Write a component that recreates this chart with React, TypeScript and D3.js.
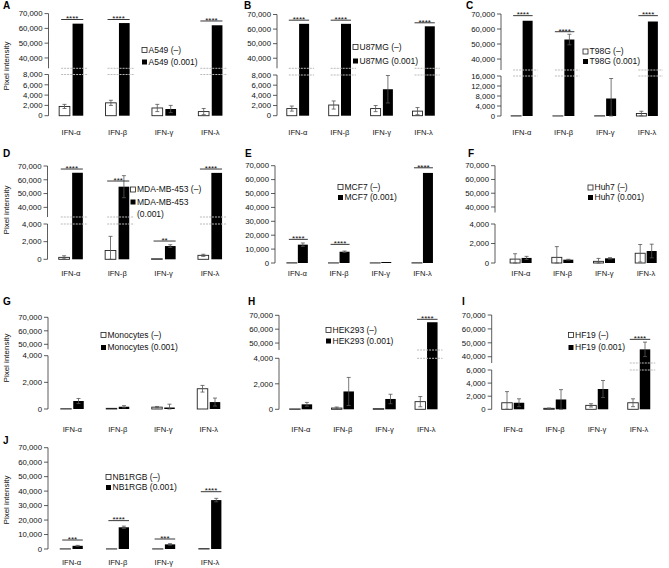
import React from "react";
import * as d3 from "d3";

// ---------- data ----------
const categories = ["IFN-α", "IFN-β", "IFN-γ", "IFN-λ"];

// A549
const a549Ctrl = [1800, 2500, 1500, 800];
const a549CtrlErr = [400, 500, 700, 600];
const a549Treat = [63200, 63600, 1300, 62100];
const a549TreatErr = [0, 0, 700, 0];
const a549Sig = [66000, 66000, null, 65000];
const a549SigText = ["****", "****", "", "****"];

// U87MG
const u87Ctrl = [1400, 2100, 1400, 900];
const u87CtrlErr = [500, 800, 600, 700];
const u87Treat = [63600, 63600, 5200, 61900];
const u87TreatErr = [0, 0, 2700, 0];
const u87Sig = [66100, 66100, null, 64300];
const u87SigText = ["****", "****", "", "****"];

// T98G
const t98Ctrl = [80, 40, 80, 1000];
const t98CtrlErr = [0, 0, 0, 900];
const t98Treat = [65500, 53000, 7000, 65000];
const t98TreatErr = [0, 3500, 8000, 0];
const t98Sig = [68900, 58200, null, 68900];
const t98SigText = ["****", "****", "", "****"];

// MDA-MB-453
const mdaCtrl = [220, 1000, 60, 450];
const mdaCtrlErr = [180, 1600, 0, 120];
const mdaTreat = [65100, 55000, 1500, 65000];
const mdaTreatErr = [0, 8000, 150, 0];
const mdaSig = [67800, 59100, 2070, 67800];
const mdaSigText = ["****", "***", "**", "****"];

// MCF7
const mcf7Ctrl = [150, 100, 100, 150];
const mcf7CtrlErr = [0, 0, 0, 0];
const mcf7Treat = [13200, 8100, 700, 64800];
const mcf7TreatErr = [1200, 500, 0, 0];
const mcf7Sig = [17000, 13400, null, 68500];
const mcf7SigText = ["****", "****", "", "****"];

// Huh7
const huh7Ctrl = [400, 580, 170, 1000];
const huh7CtrlErr = [550, 1100, 300, 900];
const huh7Treat = [520, 340, 480, 1230];
const huh7TreatErr = [160, 40, 70, 700];
const huh7Sig = [null, null, null, null];
const huh7SigText = ["", "", "", ""];

// Monocytes
const monoCtrl = [20, 50, 140, 1520];
const monoCtrlErr = [0, 0, 50, 250];
const monoTreat = [600, 170, 110, 520];
const monoTreatErr = [190, 80, 250, 300];
const monoSig = [null, null, null, null];
const monoSigText = ["", "", "", ""];

// HEK293
const hekCtrl = [30, 100, 50, 600];
const hekCtrlErr = [0, 80, 0, 400];
const hekTreat = [390, 1400, 810, 65000];
const hekTreatErr = [150, 1100, 370, 0];
const hekSig = [null, null, null, 67100];
const hekSigText = ["", "", "", "****"];

// HF19
const hf19Ctrl = [1000, 150, 600, 1000];
const hf19CtrlErr = [1700, 50, 250, 600];
const hf19Treat = [1000, 1500, 3100, 45300];
const hf19TreatErr = [600, 1500, 1300, 5200];
const hf19Sig = [null, null, null, 52500];
const hf19SigText = ["", "", "", "****"];

// NB1RGB
const nbCtrl = [100, 100, 100, 250];
const nbCtrlErr = [0, 0, 0, 0];
const nbTreat = [2200, 15000, 3200, 33800];
const nbTreatErr = [300, 800, 500, 1200];
const nbSig = [6200, 19600, 6900, 39600];
const nbSigText = ["***", "****", "***", "****"];

// tick labels
const ticks8k = [0, 2000, 4000, 6000, 8000];
const ticks16k = [0, 4000, 8000, 12000, 16000];
const ticks4k = [0, 2000, 4000];
const ticks6k = [0, 2000, 4000, 6000];
const ticksUp40 = [40000, 50000, 60000, 70000];
const ticksUp50 = [50000, 60000, 70000];
const ticksFull = [0, 10000, 20000, 30000, 40000, 50000, 60000, 70000];

// ---------- layout ----------
type Seg = { domain: [number, number]; range: [number, number]; ticks: number[] };
type PanelCfg = {
  letter: string; lx: number; ly: number;
  axisX: number; band: [number, number]; barW: number; gap: number;
  segs: Seg[]; labelY: number;
  legX: number; legY: number[]; legText: string[]; legKinds: string[];
  yLabelY?: number;
  ctrl: number[]; ctrlErr: number[]; treat: number[]; treatErr: number[];
  sig: (number | null)[]; sigText: string[];
};

const panels: PanelCfg[] = [
  {
    letter: "A", lx: 3, ly: 9, axisX: 48.5, band: [48, 233.6], barW: 10.7, gap: 2.7,
    segs: [
      { domain: [0, 8000], range: [115.7, 74.5], ticks: ticks8k },
      { domain: [33000, 70000], range: [68.3, 13.6], ticks: ticksUp40 },
    ],
    labelY: 134.5, legX: 142, legY: [50, 62], legText: ["A549 (–)", "A549 (0.001)"], legKinds: ["w", "b"],
    yLabelY: 66,
    ctrl: a549Ctrl, ctrlErr: a549CtrlErr, treat: a549Treat, treatErr: a549TreatErr, sig: a549Sig, sigText: a549SigText,
  },
  {
    letter: "B", lx: 244, ly: 9, axisX: 277, band: [277, 444.6], barW: 10, gap: 2.3,
    segs: [
      { domain: [0, 8000], range: [115.7, 75], ticks: ticks8k },
      { domain: [33100, 70000], range: [68.3, 14.5], ticks: ticksUp40 },
    ],
    labelY: 134.5, legX: 353, legY: [47, 61], legText: ["U87MG (–)", "U87MG (0.001)"], legKinds: ["w", "b"],
    ctrl: u87Ctrl, ctrlErr: u87CtrlErr, treat: u87Treat, treatErr: u87TreatErr, sig: u87Sig, sigText: u87SigText,
  },
  {
    letter: "C", lx: 466, ly: 9, axisX: 501, band: [501, 668], barW: 10, gap: 1.5,
    segs: [
      { domain: [0, 16000], range: [116, 76], ticks: ticks16k },
      { domain: [32700, 70000], range: [70, 14], ticks: ticksUp40 },
    ],
    labelY: 134.5, legX: 583, legY: [51.5, 61.5], legText: ["T98G (–)", "T98G (0.001)"], legKinds: ["w", "b"],
    ctrl: t98Ctrl, ctrlErr: t98CtrlErr, treat: t98Treat, treatErr: t98TreatErr, sig: t98Sig, sigText: t98SigText,
  },
  {
    letter: "D", lx: 3, ly: 157, axisX: 47.5, band: [47.6, 233.2], barW: 10.7, gap: 2.7,
    segs: [
      { domain: [0, 4000], range: [259.3, 224], ticks: ticks4k },
      { domain: [33000, 70000], range: [217, 166], ticks: ticksUp40 },
    ],
    labelY: 275.5, legX: 130.5, legY: [189.5, 202, 214],
    legText: ["MDA-MB-453 (–)", "MDA-MB-453", "(0.001)"], legKinds: ["w", "b", ""],
    yLabelY: 210,
    ctrl: mdaCtrl, ctrlErr: mdaCtrlErr, treat: mdaTreat, treatErr: mdaTreatErr, sig: mdaSig, sigText: mdaSigText,
  },
  {
    letter: "E", lx: 245, ly: 157, axisX: 275, band: [276.5, 443.3], barW: 10, gap: 1,
    segs: [{ domain: [0, 70000], range: [263, 165.7], ticks: ticksFull }],
    labelY: 275.5, legX: 338, legY: [187, 197.5], legText: ["MCF7 (–)", "MCF7 (0.001)"], legKinds: ["w", "b"],
    ctrl: mcf7Ctrl, ctrlErr: mcf7CtrlErr, treat: mcf7Treat, treatErr: mcf7TreatErr, sig: mcf7Sig, sigText: mcf7SigText,
  },
  {
    letter: "F", lx: 468, ly: 157, axisX: 495, band: [500, 666.8], barW: 10, gap: 1.5,
    segs: [
      { domain: [0, 4000], range: [263, 224], ticks: ticks4k },
      { domain: [36000, 70000], range: [212.5, 165.7], ticks: ticksUp40 },
    ],
    labelY: 275.5, legX: 588, legY: [187.5, 197.5], legText: ["Huh7 (–)", "Huh7 (0.001)"], legKinds: ["w", "b"],
    ctrl: huh7Ctrl, ctrlErr: huh7CtrlErr, treat: huh7Treat, treatErr: huh7TreatErr, sig: huh7Sig, sigText: huh7SigText,
  },
  {
    letter: "G", lx: 3, ly: 305, axisX: 48, band: [49.5, 231.5], barW: 10.5, gap: 2,
    segs: [
      { domain: [0, 4000], range: [409, 355.7], ticks: ticks4k },
      { domain: [46300, 70000], range: [349.3, 317.3], ticks: ticksUp50 },
    ],
    labelY: 432, legX: 101, legY: [335, 347.5], legText: ["Monocytes (–)", "Monocytes (0.001)"], legKinds: ["w", "b"],
    yLabelY: 358,
    ctrl: monoCtrl, ctrlErr: monoCtrlErr, treat: monoTreat, treatErr: monoTreatErr, sig: monoSig, sigText: monoSigText,
  },
  {
    letter: "H", lx: 248, ly: 305, axisX: 279, band: [280, 447.2], barW: 10.5, gap: 1.5,
    segs: [
      { domain: [0, 4000], range: [409.3, 358.3], ticks: ticks4k },
      { domain: [45000, 70000], range: [350, 315.3], ticks: ticksUp50 },
    ],
    labelY: 432, legX: 326, legY: [330, 341], legText: ["HEK293 (–)", "HEK293 (0.001)"], legKinds: ["w", "b"],
    ctrl: hekCtrl, ctrlErr: hekCtrlErr, treat: hekTreat, treatErr: hekTreatErr, sig: hekSig, sigText: hekSigText,
  },
  {
    letter: "I", lx: 462, ly: 305, axisX: 491.7, band: [492, 660], barW: 10.5, gap: 1.5,
    segs: [
      { domain: [0, 6000], range: [409.3, 370], ticks: ticks6k },
      { domain: [35500, 70000], range: [363, 315], ticks: ticksUp40 },
    ],
    labelY: 432, legX: 568.5, legY: [335, 347.5], legText: ["HF19 (–)", "HF19 (0.001)"], legKinds: ["w", "b"],
    ctrl: hf19Ctrl, ctrlErr: hf19CtrlErr, treat: hf19Treat, treatErr: hf19TreatErr, sig: hf19Sig, sigText: hf19SigText,
  },
  {
    letter: "J", lx: 3, ly: 444, axisX: 48, band: [48.4, 233.2], barW: 10.3, gap: 2,
    segs: [{ domain: [0, 70000], range: [549, 447.7], ticks: ticksFull }],
    labelY: 565, legX: 106, legY: [477, 487.5], legText: ["NB1RGB (–)", "NB1RGB (0.001)"], legKinds: ["w", "b"],
    yLabelY: 500,
    ctrl: nbCtrl, ctrlErr: nbCtrlErr, treat: nbTreat, treatErr: nbTreatErr, sig: nbSig, sigText: nbSigText,
  },
];

const FONT = "'Liberation Sans', Arial, sans-serif";
const fmt = d3.format(",");
const ERR = "#555";
const TXT = "#111";

function Panel({ p }: { p: PanelCfg }) {
  const x = d3.scaleBand<string>().domain(categories).range(p.band).paddingInner(0).paddingOuter(0);
  const scales = p.segs.map((s) => d3.scaleLinear().domain(s.domain).range(s.range));
  const lower = p.segs[0];
  const upper = p.segs.length > 1 ? p.segs[1] : null;
  const y = (v: number) => {
    if (!upper || v <= lower.domain[1]) return scales[0](v);
    if (v >= upper.domain[0]) return scales[1](v);
    const t = (v - lower.domain[1]) / (upper.domain[0] - lower.domain[1]);
    return lower.range[1] + t * (upper.range[0] - lower.range[1]);
  };
  const y0 = y(0);

  const errBar = (cx: number, v: number, e: number, key: string) => {
    if (!e) return null;
    const yt = y(v + e);
    const yb = y(Math.max(0, v - e));
    return (
      <g key={key} stroke={ERR} strokeWidth={0.8}>
        <line x1={cx} x2={cx} y1={yt} y2={yb} />
        <line x1={cx - 2} x2={cx + 2} y1={yt} y2={yt} />
        <line x1={cx - 2} x2={cx + 2} y1={yb} y2={yb} />
      </g>
    );
  };

  return (
    <g fontFamily={FONT}>
      <text x={p.lx} y={p.ly} fontSize={10} fontWeight="bold">{p.letter}</text>
      {p.yLabelY !== undefined && (
        <text transform={`translate(8.5,${p.yLabelY}) rotate(-90)`} textAnchor="middle" fontSize={8} fill={TXT}>
          Pixel intensity
        </text>
      )}
      {p.segs.map((s, si) => (
        <g key={"ax" + si}>
          <line x1={p.axisX} x2={p.axisX} y1={s.range[0]} y2={s.range[1]} stroke="#333" strokeWidth={0.8} />
          {s.ticks.map((t) => (
            <g key={t}>
              <line x1={p.axisX - 4} x2={p.axisX} y1={scales[si](t)} y2={scales[si](t)} stroke="#333" strokeWidth={0.8} />
              <text x={p.axisX - 6} y={scales[si](t)} dy="0.35em" textAnchor="end" fontSize={7.8} fill={TXT}>
                {fmt(t)}
              </text>
            </g>
          ))}
        </g>
      ))}
      {categories.map((c, i) => {
        const cx = (x(c) as number) + x.bandwidth() / 2;
        const wx = cx - p.gap / 2 - p.barW;
        const bx = cx + p.gap / 2;
        const cv = p.ctrl[i];
        const tv = p.treat[i];
        const broken = upper && tv > lower.domain[1];
        return (
          <g key={c}>
            <rect x={wx} y={y(cv)} width={p.barW} height={Math.max(0.01, y0 - y(cv))} fill="#fff" stroke="#222" strokeWidth={0.9} />
            <rect x={bx} y={y(tv)} width={p.barW} height={y0 - y(tv)} fill="#000" />
            {errBar(wx + p.barW / 2, cv, p.ctrlErr[i], "ew")}
            {errBar(bx + p.barW / 2, tv, p.treatErr[i], "eb")}
            {broken && upper && (
              <g stroke="#bbb" strokeWidth={1} strokeDasharray="2,1">
                <line x1={wx + 2} x2={bx + p.barW + 5} y1={upper.range[0]} y2={upper.range[0]} />
                <line x1={wx + 2} x2={bx + p.barW + 5} y1={lower.range[1]} y2={lower.range[1]} />
              </g>
            )}
            {p.sig[i] !== null && (
              <g>
                <line x1={wx + 2} x2={bx + p.barW} y1={y(p.sig[i] as number)} y2={y(p.sig[i] as number)} stroke="#222" strokeWidth={0.9} />
                <text x={(wx + 2 + bx + p.barW) / 2} y={y(p.sig[i] as number) + 1.8} textAnchor="middle" fontSize={8} fill={TXT}>
                  {p.sigText[i]}
                </text>
              </g>
            )}
            <text x={cx} y={p.labelY} textAnchor="middle" fontSize={7.6} fill={TXT}>{c}</text>
          </g>
        );
      })}
      {p.legText.map((t, li) => (
        <g key={"lg" + li}>
          {p.legKinds[li] === "w" && (
            <rect x={p.legX} y={p.legY[li] - 2.5} width={5} height={5} fill="#fff" stroke="#222" strokeWidth={0.8} />
          )}
          {p.legKinds[li] === "b" && <rect x={p.legX} y={p.legY[li] - 2.5} width={5} height={5} fill="#000" />}
          <text x={p.legX + 6.5} y={p.legY[li]} dy="0.35em" fontSize={8.5} fill={TXT}>{t}</text>
        </g>
      ))}
    </g>
  );
}

export default function App() {
  return (
    <svg
      width={669}
      height={568}
      viewBox="0 0 669 568"
      style={{ position: "absolute", left: 0, top: 0, background: "#fff" }}
    >
      <rect width={669} height={568} fill="#fff" />
      {panels.map((p) => (
        <Panel key={p.letter} p={p} />
      ))}
    </svg>
  );
}
